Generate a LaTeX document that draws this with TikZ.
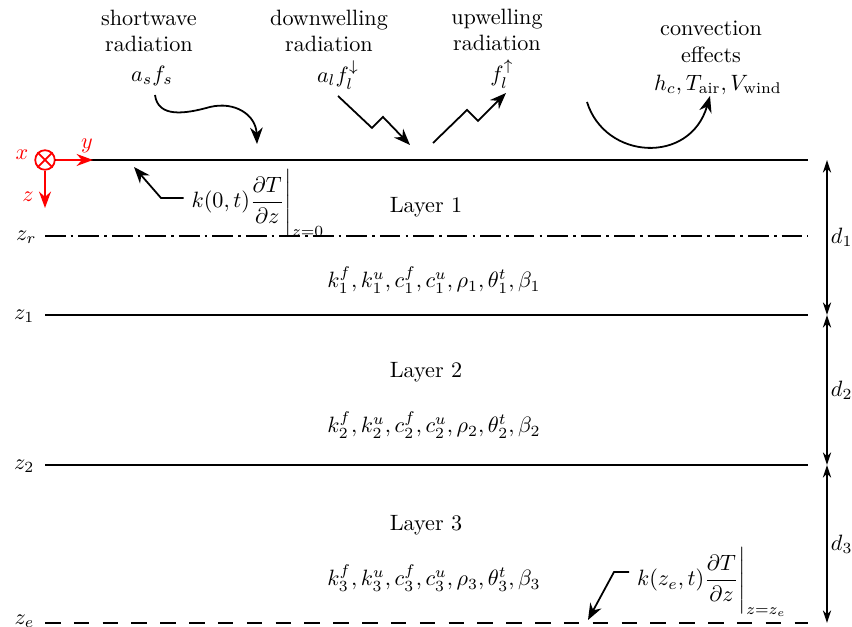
\documentclass[tikz,border=0pt]{standalone}
\usepackage{amsmath,amssymb}
\usepackage{tikz}
\usetikzlibrary{arrows.meta,positioning,calc}

\begin{document}
\begin{tikzpicture}[x=0.1585mm, y=-0.1585mm]
\tikzset{bound/.style={thick}}
\tikzset{flux/.style={thick, -{Stealth[length=2.6mm, width=2mm]}}}
\tikzset{dim/.style={semithick, {Stealth[length=2mm, width=1.3mm]}-{Stealth[length=2mm, width=1.3mm]}}}
\tikzset{axis/.style={red, thick, -{Stealth[length=2.6mm, width=1.9mm]}}}
\tikzset{src/.style={align=center, inner sep=1pt}}
\tikzset{zlab/.style={anchor=east, inner sep=1pt}}
\useasboundingbox (0,0) rectangle (852,627);
% interfaces
\coordinate (s0) at (45,160);  \coordinate (s1) at (808,160);
\coordinate (r0) at (45,236);  \coordinate (r1) at (808,236);
\coordinate (a0) at (45,315);  \coordinate (a1) at (808,315);
\coordinate (b0) at (45,465);  \coordinate (b1) at (808,465);
\coordinate (e0) at (45,623);  \coordinate (e1) at (808,623);
\draw[bound] (s0) -- (s1);
\draw[bound, dash pattern=on 9.3pt off 2.3pt on 1.2pt off 2.3pt] (r0) -- (r1);
\draw[bound] (a0) -- (a1);
\draw[bound] (b0) -- (b1);
\draw[bound, dash pattern=on 7pt off 6pt] (e0) -- (e1);
\node[zlab] (zr) at (39,237) {$z_r$};
\node[zlab] (z1) at (37,316) {$z_1$};
\node[zlab] (z2) at (37,466) {$z_2$};
\node[zlab] (ze) at (37,621) {$z_e$};
% axes
\node[circle, draw=red, thick, minimum size=3.1mm, inner sep=0pt, fill=white] (ox) at (45,160) {};
\draw[red, thick] (ox.north west) -- (ox.south east) (ox.north east) -- (ox.south west);
\coordinate (ya) at (93,160);
\coordinate (za) at (45,208);
\draw[axis] (ox.east) -- (ya);
\draw[axis] (ox.south) -- (za);
\node[red] (xlab) at (22,155) {$x$};
\node[red] (ylab) at (87,146) {$y$};
\node[red] (zlab) at (28,197) {$z$};
% thickness
\coordinate (d0) at (827,160);
\coordinate (d1) at (827,315);
\coordinate (d2) at (827,465);
\coordinate (d3) at (827,623);
\draw[dim] (d0) -- node[right, inner sep=1.5pt] {$d_1$} (d1);
\draw[dim] (d1) -- node[right, inner sep=1.5pt] {$d_2$} (d2);
\draw[dim] (d2) -- node[right, inner sep=1.5pt] {$d_3$} (d3);
% layers
\node (L1) at (426,207) {Layer 1};
\node (P1) at (434,280) {$k_1^f, k_1^u, c_1^f, c_1^u, \rho_1, \theta_1^t, \beta_1$};
\node (L2) at (426,372) {Layer 2};
\node (P2) at (434,425) {$k_2^f, k_2^u, c_2^f, c_2^u, \rho_2, \theta_2^t, \beta_2$};
\node (L3) at (426,525) {Layer 3};
\node (P3) at (434,578) {$k_3^f, k_3^u, c_3^f, c_3^u, \rho_3, \theta_3^t, \beta_3$};
% surface fluxes
\node[src] (sw) at (149,31) {shortwave\\radiation};
\node (swv) at (152,76) {$a_sf_s$};
\node[src] (dw) at (329,31) {downwelling\\radiation};
\node (dwv) at (338,75) {$a_lf_l^{\downarrow}$};
\node[src] (uw) at (497,30) {upwelling\\radiation};
\node (uwv) at (502,74) {$f_l^{\uparrow}$};
\node[src] (cv) at (711,42) {convection\\effects};
\node (cvv) at (718,85) {$h_c, T_{\text{air}}, V_{\text{wind}}$};
\coordinate (sws) at (155,95);  \coordinate (swt) at (257,144);
\coordinate (dws) at (338,96);  \coordinate (dwt) at (410,145);
\coordinate (uws) at (433,143); \coordinate (uwt) at (506,93);
\coordinate (cvs) at (587,102); \coordinate (cvt) at (710,96);
\draw[flux] (sws) .. controls (158,118) and (185,114) .. (210,107)
  .. controls (235,101) and (256,115) .. (swt);
\draw[flux] (dws) -- (372,128) -- (383,117) -- (dwt);
\draw[flux] (uws) -- (467,110) -- (478,121) -- (uwt);
\draw[flux] (cvs) .. controls (605,160) and (690,165) .. (cvt);
% boundary conditions
\node (kt) at (258,203) {$k(0,t)\dfrac{\partial T}{\partial z}\Bigg|_{z=0}$};
\coordinate (ktb) at (161,198); \coordinate (ktt) at (134,167);
\draw[flux] (kt.west |- ktb) -- (ktb) -- (ktt);
\node (kb) at (712,582) {$k(z_e,t)\dfrac{\partial T}{\partial z}\Bigg|_{z=z_e}$};
\coordinate (kbb) at (614,572); \coordinate (kbt) at (588,620);
\draw[flux] (kb.west |- kbb) -- (kbb) -- (kbt);
\end{tikzpicture}
\end{document}
